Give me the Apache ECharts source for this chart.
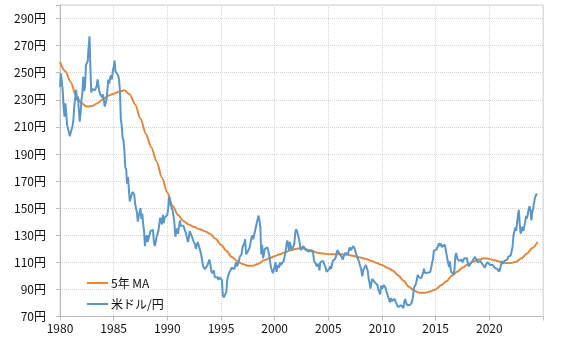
<!DOCTYPE html>
<html>
<head>
<meta charset="utf-8">
<script src="https://cdn.jsdelivr.net/npm/echarts@6/dist/echarts.min.js"></script>
<style>
  html, body { margin: 0; padding: 0; background: #fff; }
  #chart { width: 568px; height: 341px; }
</style>
</head>
<body>
<div id="chart"></div>
<script>
// USD/JPY, monthly, from January 1980 (one row per year)
const startYear = 1980;
const usdJpyMonthly = [
  239.5, 249.6, 251.0, 237.0, 225.0, 217.6, 227.4, 220.0, 211.3, 210.0, 211.3, 203.0, // 1980
  206.0, 206.6, 210.5, 215.6, 225.5, 224.6, 237.3, 229.6, 232.3, 233.3, 213.8, 219.9, // 1981
  229.7, 235.2, 247.0, 236.5, 239.7, 255.7, 256.1, 258.6, 269.2, 276.8, 252.5, 235.3, // 1982
  238.0, 237.5, 238.5, 237.0, 238.5, 240.0, 245.0, 246.0, 236.0, 234.0, 235.0, 232.0, // 1983
  234.0, 233.0, 225.0, 224.0, 230.0, 237.0, 245.0, 242.0, 246.0, 248.0, 245.0, 251.0, // 1984
  254.0, 259.0, 251.0, 250.0, 251.0, 248.0, 245.0, 237.0, 216.0, 211.0, 202.0, 200.0, // 1985
  192.0, 180.0, 178.5, 168.0, 173.0, 164.0, 155.0, 154.0, 154.0, 162.0, 163.0, 160.0, // 1986
  153.0, 153.0, 147.0, 140.0, 144.0, 147.0, 150.0, 142.0, 146.0, 138.0, 133.0, 122.0, // 1987
  128.0, 130.0, 125.0, 125.0, 124.0, 133.0, 133.0, 134.0, 134.0, 125.0, 122.0, 125.0, // 1988
  129.0, 128.0, 133.0, 132.0, 143.0, 144.0, 138.0, 145.0, 139.0, 143.0, 143.0, 144.0, // 1989
  145.0, 150.0, 158.5, 158.0, 152.0, 153.0, 148.0, 144.0, 138.0, 129.0, 133.0, 135.0, // 1990
  131.0, 132.0, 141.0, 137.0, 138.0, 138.0, 137.0, 137.0, 133.0, 131.0, 130.0, 125.0, // 1991
  128.0, 133.0, 133.0, 133.0, 128.0, 126.0, 127.0, 123.0, 120.0, 123.0, 125.0, 125.0, // 1992
  124.0, 118.0, 115.0, 111.0, 107.0, 107.0, 105.0, 104.0, 106.0, 108.0, 109.0, 112.0, // 1993
  109.0, 104.0, 102.0, 102.0, 104.0, 99.0, 100.0, 100.0, 99.0, 97.0, 99.0, 100.0,     // 1994
  99.0, 97.0, 86.0, 84.0, 84.5, 85.0, 88.0, 97.0, 100.0, 102.0, 101.0, 103.0,          // 1995
  106.0, 105.0, 107.0, 105.0, 108.0, 110.0, 107.0, 109.0, 111.0, 114.0, 113.0, 116.0, // 1996
  121.0, 120.0, 124.0, 127.0, 116.0, 115.0, 118.0, 118.0, 121.0, 120.0, 128.0, 130.0, // 1997
  127.0, 126.0, 133.0, 132.0, 139.0, 140.0, 144.5, 141.0, 136.0, 116.0, 123.0, 113.0, // 1998
  116.0, 120.0, 119.0, 119.0, 121.0, 121.0, 115.0, 110.0, 106.0, 104.0, 102.0, 102.0, // 1999
  107.0, 110.0, 103.0, 106.0, 108.0, 106.0, 110.0, 108.0, 108.0, 109.0, 111.0, 114.0, // 2000
  117.0, 117.0, 126.0, 124.0, 119.0, 125.0, 125.0, 119.0, 119.0, 122.0, 124.0, 132.0, // 2001
  134.5, 133.0, 132.0, 128.0, 124.0, 119.0, 120.0, 118.0, 122.0, 122.0, 122.0, 119.0, // 2002
  119.0, 118.0, 118.0, 119.0, 119.0, 119.0, 120.0, 117.0, 111.0, 110.0, 109.0, 107.0, // 2003
  106.0, 109.0, 104.0, 110.0, 110.0, 109.0, 111.0, 110.0, 111.0, 106.0, 103.0, 103.0, // 2004
  104.0, 105.0, 107.0, 105.0, 108.0, 111.0, 112.0, 111.0, 113.0, 116.0, 119.0, 118.0, // 2005
  117.0, 118.0, 118.0, 114.0, 112.0, 114.0, 115.0, 117.0, 118.0, 117.0, 116.0, 119.0, // 2006
  121.0, 119.0, 118.0, 120.0, 122.0, 123.0, 119.0, 116.0, 115.0, 115.0, 111.0, 112.0, // 2007
  106.3, 103.8, 99.7, 104.0, 105.5, 106.2, 108.0, 108.8, 104.0, 98.3, 95.3, 90.6,      // 2008
  89.9, 97.7, 98.3, 98.6, 95.2, 96.4, 94.8, 93.1, 89.7, 90.1, 86.4, 92.9,              // 2009
  90.3, 88.9, 93.3, 94.0, 91.2, 88.5, 86.4, 84.2, 83.5, 80.4, 83.7, 81.2,              // 2010
  82.0, 81.8, 83.1, 81.2, 81.5, 80.5, 76.9, 76.6, 77.0, 78.3, 77.6, 77.0,              // 2011
  76.3, 81.2, 82.9, 80.2, 78.4, 79.8, 78.1, 78.4, 77.9, 79.9, 82.4, 86.6,              // 2012
  91.7, 92.6, 94.2, 97.5, 100.8, 99.2, 97.9, 98.1, 98.2, 98.4, 102.4, 105.3,           // 2013
  102.2, 101.7, 103.2, 102.3, 101.8, 101.3, 102.8, 104.1, 109.5, 112.3, 118.6, 119.9,  // 2014
  117.5, 119.6, 120.1, 119.2, 124.1, 122.1, 124.0, 121.2, 119.9, 120.6, 123.2, 120.3,  // 2015
  121.1, 112.7, 112.4, 106.5, 110.7, 103.2, 102.1, 103.4, 101.2, 104.8, 114.5, 116.9,  // 2016
  113.0, 112.0, 111.0, 111.0, 111.0, 112.0, 110.0, 110.0, 113.0, 113.0, 112.0, 113.0,  // 2017
  109.0, 107.0, 106.0, 109.0, 109.0, 111.0, 112.0, 111.0, 114.0, 113.0, 113.0, 110.0,  // 2018
  109.0, 111.0, 111.0, 111.0, 109.0, 108.0, 109.0, 106.0, 108.0, 108.0, 110.0, 109.0,  // 2019
  109.0, 108.0, 108.0, 107.0, 108.0, 108.0, 106.0, 106.0, 106.0, 105.0, 104.0, 103.0,  // 2020
  105.0, 106.0, 111.0, 109.0, 110.0, 111.0, 110.0, 110.0, 112.0, 114.0, 113.0, 115.0,  // 2021
  115.2, 115.0, 121.7, 129.8, 128.7, 135.7, 133.2, 138.9, 144.7, 148.7, 138.1, 131.1,  // 2022
  130.1, 136.2, 133.1, 136.3, 139.3, 144.3, 142.3, 145.5, 149.4, 151.4, 148.2, 141.0,  // 2023
  147.2, 150.0, 151.3, 157.8, 157.3, 160.9                                             // 2024
];

// 5-year moving average, sampled every half year from January 1980
const ma5Step = 0.5;
const ma5Values = [
  258, 251, 243, 233, 227.5, 225, 225.5, 227.5, 230.5, 233,        // 1980-1984
  234.5, 236, 237, 234, 226.5, 216, 205, 195, 184.5, 172.5,        // 1985-1989
  161.5, 151.5, 145, 140.5, 138, 136, 134.5, 133, 131, 127.5,      // 1990-1994
  123, 118.5, 114, 111, 108.8, 107.5, 107.5, 109, 111.5, 113,      // 1995-1999
  114.5, 116, 117.5, 119, 120, 120.5, 119.5, 118.5, 117, 116.5,    // 2000-2004
  116, 116, 116, 115.8, 115.3, 114.5, 113.5, 112.5, 111, 109.5,    // 2005-2009
  108, 106, 104, 100.5, 96.5, 92, 89, 87.5, 87.5, 88.5,            // 2010-2014
  90, 93, 96, 100, 103, 106, 108.5, 110.5, 112, 113,               // 2015-2019
  112.5, 111.5, 110.5, 109.5, 109.5, 110.5, 113, 116.5, 120.5, 125 // 2020-2024
];

const yearTicks = { min: 1980, max: 2025, step: 5 };
const yenTicks = { min: 70, max: 300, step: 20, lastLabel: 290 };
const seriesNames = ['5年 MA', '米ドル/円'];

const spotData = usdJpyMonthly.map((v, i) => [startYear + i / 12, v]);
const maData = ma5Values.map((v, i) => [startYear + i * ma5Step, v]);

const labelFont = '"Noto Sans CJK JP", "Noto Sans", sans-serif';
const chart = echarts.init(document.getElementById('chart'), null, { renderer: 'canvas' });

chart.setOption({
  animation: false,
  backgroundColor: '#ffffff',
  grid: {
    left: 60, right: 25, top: 5, bottom: 24.5,
    show: true, borderColor: '#d3d3d3', borderWidth: 1, backgroundColor: 'transparent'
  },
  legend: {
    orient: 'vertical',
    left: 82,
    top: 270,
    data: seriesNames,
    icon: 'rect',
    itemWidth: 21,
    itemHeight: 2,
    itemGap: 5,
    textStyle: { fontFamily: labelFont, fontSize: 12, color: '#111', lineHeight: 16, padding: [0, 0, 0, -2] }
  },
  xAxis: {
    type: 'value',
    min: yearTicks.min,
    max: yearTicks.max,
    interval: yearTicks.step,
    axisLine: { show: true, lineStyle: { color: '#bdbdbd', width: 1 } },
    axisTick: { show: true, length: 4, lineStyle: { color: '#bdbdbd' } },
    splitLine: { show: true, lineStyle: { type: 'dotted', color: '#d6d6d6', width: 1 } },
    axisLabel: {
      margin: 6,
      fontFamily: labelFont, fontSize: 12, color: '#111',
      formatter: v => (v >= yearTicks.max ? '' : String(v))
    }
  },
  yAxis: {
    type: 'value',
    min: yenTicks.min,
    max: yenTicks.max,
    interval: yenTicks.step,
    axisLine: { show: true, lineStyle: { color: '#bdbdbd', width: 1 } },
    axisTick: { show: true, length: 4, lineStyle: { color: '#bdbdbd' } },
    splitLine: { show: true, lineStyle: { type: 'dotted', color: '#d6d6d6', width: 1 } },
    axisLabel: {
      margin: 14,
      fontFamily: labelFont, fontSize: 12, color: '#111',
      formatter: v => (v > yenTicks.lastLabel ? '' : v + '円')
    }
  },
  series: [
    {
      name: seriesNames[0],
      type: 'line',
      data: maData,
      showSymbol: false,
      symbol: 'none',
      smooth: 0.3,
      smoothMonotone: 'x',
      lineStyle: { color: '#e2873f', width: 2 },
      itemStyle: { color: '#e2873f' },
      z: 2
    },
    {
      name: seriesNames[1],
      type: 'line',
      data: spotData,
      showSymbol: false,
      symbol: 'none',
      lineStyle: { color: '#5b96c8', width: 2 },
      itemStyle: { color: '#5b96c8' },
      z: 3
    }
  ]
});
</script>
</body>
</html>
